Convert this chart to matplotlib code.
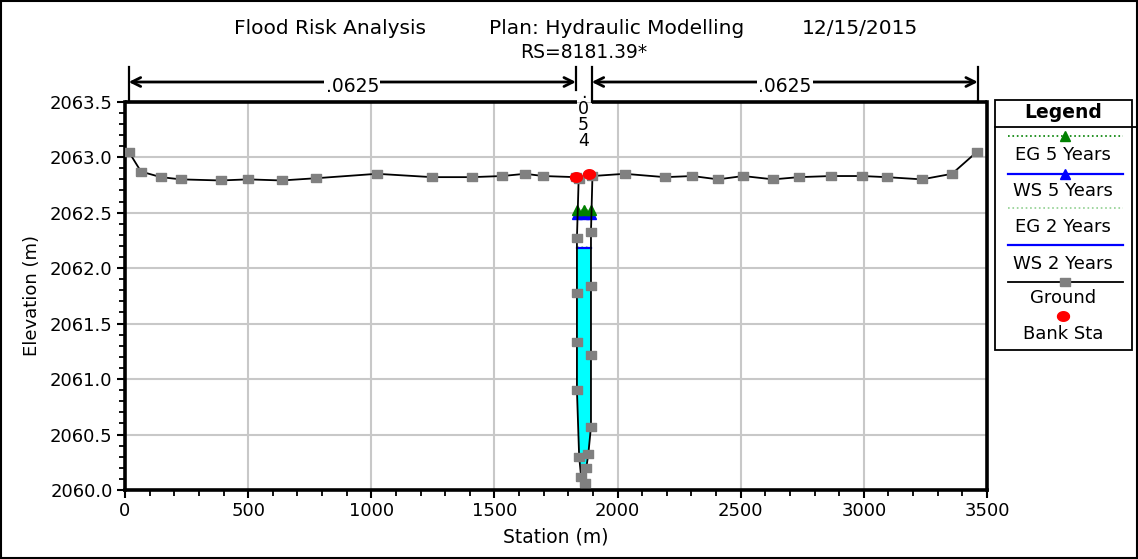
import numpy as np
import matplotlib.pyplot as plt
import matplotlib.transforms as mtransforms
from matplotlib.patches import Rectangle
from matplotlib.ticker import MultipleLocator, FormatStrFormatter

# ground profile (station, elevation)
station = [15, 65, 146, 226, 388, 500, 636, 774, 1023, 1247, 1409, 1531, 1625, 1698,
           1830, 1842, 1835, 1835, 1835, 1835, 1844, 1852, 1869, 1873, 1881,
           1892, 1892, 1892, 1892, 1898,
           2029, 2192, 2304, 2408, 2510, 2632, 2736, 2867, 2993, 3092, 3236, 3358, 3460]
ground = [2063.05, 2062.87, 2062.82, 2062.80, 2062.79, 2062.80, 2062.79, 2062.81, 2062.85, 2062.82, 2062.82, 2062.83, 2062.85, 2062.83,
          2062.82, 2062.80, 2062.27, 2061.78, 2061.33, 2060.90, 2060.30, 2060.12, 2060.06, 2060.20, 2060.32,
          2060.57, 2061.22, 2061.84, 2062.33, 2062.83,
          2062.85, 2062.82, 2062.83, 2062.80, 2062.83, 2062.80, 2062.82, 2062.83, 2062.83, 2062.82, 2062.80, 2062.85, 2063.05]

bank_sta = [1830, 1885]
bank_elev = [2062.82, 2062.85]

chan_sta = [1835, 1863, 1892]
eg5 = 2062.52
ws5 = 2062.49
eg2 = 2062.19
ws2 = 2062.18

n_left, n_chan, n_right = '.0625', '.054', '.0625'
n_sta = [15, 1831, 1895, 3463]

title_parts = ['Flood Risk Analysis', 'Plan: Hydraulic Modelling', '12/15/2015']
legend_labels = ['EG 5 Years', 'WS 5 Years', 'EG 2 Years', 'WS 2 Years', 'Ground', 'Bank Sta']

# the source picture is stretched sideways, so markers are a bit wider than tall
sq = [(-1.25, -1), (1.25, -1), (1.25, 1), (-1.25, 1), (-1.25, -1)]
ang = np.linspace(0, 2 * np.pi, 40)
ell = list(zip(1.25 * np.cos(ang), np.sin(ang)))


def water_poly(xs, zs, ws):
    px, pz = [], []
    for i in range(len(xs) - 1):
        x0, z0, x1, z1 = xs[i], zs[i], xs[i+1], zs[i+1]
        if z0 <= ws:
            px.append(x0); pz.append(z0)
        if (z0 - ws) * (z1 - ws) < 0:
            t = (ws - z0) / (z1 - z0)
            px.append(x0 + t * (x1 - x0)); pz.append(ws)
    return px, pz


W, H = 1138, 559
fig = plt.figure(figsize=(W/100, H/100), dpi=100)
ax = fig.add_axes([125/W, 1-490/H, 862/W, 388.3/H])

# water fill (2 yr)
wx, wz = water_poly(station[15:30], ground[15:30], ws2)
ax.fill(wx, wz, color='#00ffff', zorder=2, lw=0)

ax.plot([chan_sta[0], chan_sta[-1]], [eg2, eg2], color='#90d090', ls=':', lw=1.2, zorder=3)
ax.plot([chan_sta[0], chan_sta[-1]], [ws2, ws2], color='blue', lw=1.6, zorder=3)
ax.plot(chan_sta, [ws5]*3, color='blue', lw=1.6, marker='^', ms=7, zorder=3)
ax.plot(chan_sta, [eg5]*3, color='#008000', ls=':', lw=1.2, marker='^', ms=7, zorder=4)

ax.plot(station, ground, color='black', lw=1.3, marker=sq, ms=6.8,
        mfc='#808080', mec='#808080', zorder=5)
ax.plot(bank_sta, bank_elev, ls='none', marker=ell, ms=8.6, mfc='red', mec='red', zorder=6)

ax.set_xlim(0, 3500)
ax.set_ylim(2060.0, 2063.5)
ax.xaxis.set_major_locator(MultipleLocator(500))
ax.xaxis.set_minor_locator(MultipleLocator(100))
ax.yaxis.set_major_locator(MultipleLocator(0.5))
ax.yaxis.set_minor_locator(MultipleLocator(0.1))
ax.yaxis.set_major_formatter(FormatStrFormatter('%.1f'))
ax.tick_params(which='major', direction='out', length=6, width=1.5, labelsize=13, pad=3)
ax.tick_params(which='minor', direction='out', length=4, width=1.3)
ax.grid(which='major', color='#c8c8c8', lw=1.5, zorder=0)
ax.set_axisbelow(True)
for s in ['left', 'right', 'bottom']:
    ax.spines[s].set_linewidth(2.6)
ax.spines['top'].set_visible(False)
ax.set_xlabel('Station (m)', fontsize=13.5, labelpad=5)
ax.set_ylabel('Elevation (m)', fontsize=13, labelpad=6)

trans = mtransforms.blended_transform_factory(ax.transData, ax.transAxes)
# top border with gap at channel
ax.plot([0, chan_sta[0]], [1, 1], color='black', lw=2.6, transform=trans, clip_on=False, solid_capstyle='butt')
ax.plot([n_sta[2], 3500], [1, 1], color='black', lw=2.6, transform=trans, clip_on=False, solid_capstyle='butt')

# manning's n bar
ya = (490 - 82) / 388.3
ytop = (490 - 67) / 388.3
for xs, yb in zip(n_sta, [1.0, (490 - 90) / 388.3, 1.0, 1.0]):
    ax.plot([xs, xs], [yb, ytop], color='black', lw=1.6, transform=trans, clip_on=False)
for (x0, x1), lab in zip([(n_sta[0], n_sta[1]), (n_sta[2], n_sta[3])], [n_left, n_right]):
    ax.annotate('', xy=(x1, ya), xytext=(x0, ya), xycoords=trans, textcoords=trans,
                arrowprops=dict(arrowstyle='<->', lw=2, color='black',
                                shrinkA=0, shrinkB=0, mutation_scale=16))
    ax.text((x0 + x1) / 2, (490 - 86) / 388.3, lab, transform=trans, ha='center', va='center',
            fontsize=13.5, bbox=dict(fc='white', ec='none', pad=1))
ax.text(1862, (490 - 117) / 388.3, '\n'.join(n_chan), transform=trans, ha='center', va='center',
        fontsize=12.5, linespacing=0.88)

# overlay in pixel coords for titles, legend and frame
ov = fig.add_axes([0, 0, 1, 1])
ov.set_xlim(0, W)
ov.set_ylim(H, 0)
ov.axis('off')
ov.patch.set_visible(False)

for txt, xc in zip(title_parts, [330, 617, 860]):
    ov.text(xc, 28, txt, ha='center', va='center', fontsize=14.5)
ov.text(584, 53, 'RS=8181.39*', ha='center', va='center', fontsize=13.5)

ov.add_patch(Rectangle((1, 1), W - 2, H - 2, fill=False, ec='black', lw=1.5))

# legend
ov.add_patch(Rectangle((995, 100), 137, 250, fill=False, ec='black', lw=1.3))
ov.plot([995, 1136], [127, 127], color='black', lw=1.3)
ov.text(1063, 113, 'Legend', ha='center', va='center', fontsize=13.5, fontweight='bold')
line_y = [136, 174, 208, 245, 282, 316]
text_y = [155, 191, 227, 264, 298, 334]
styles = [dict(color='#008000', ls=':', lw=1.2, marker='^', ms=7),
          dict(color='blue', ls='-', lw=1.6, marker='^', ms=7),
          dict(color='#90d090', ls=':', lw=1.2),
          dict(color='blue', ls='-', lw=1.6),
          dict(color='black', ls='-', lw=1.3, marker=sq, ms=6.8, mfc='#808080', mec='#808080'),
          dict(color='red', ls='none', marker=ell, ms=8.6)]
for lab, ly, ty, st in zip(legend_labels, line_y, text_y, styles):
    if st.get('ls') == 'none':
        ov.plot([1063], [ly], **st)
    else:
        ov.plot([1008, 1123], [ly, ly], **{k: v for k, v in st.items() if k not in ('marker', 'ms', 'mfc', 'mec')})
        if 'marker' in st:
            ov.plot([1065], [ly], ls='none', marker=st['marker'], ms=st['ms'],
                    mfc=st.get('mfc', st['color']), mec=st.get('mec', st['color']))
    ov.text(1063, ty, lab, ha='center', va='center', fontsize=13)

fig.savefig('out.png', dpi=100)
